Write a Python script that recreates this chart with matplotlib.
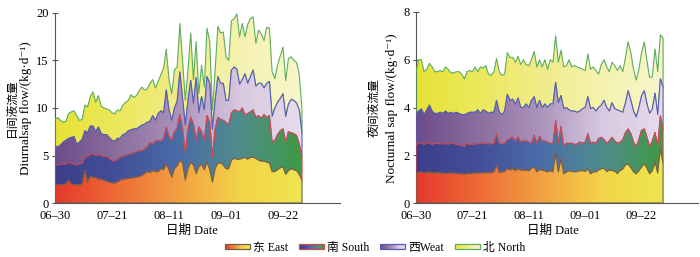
import numpy as np
import matplotlib
matplotlib.use('Agg')
import matplotlib.pyplot as plt
import matplotlib.dates as mdates
from matplotlib.colors import LinearSegmentedColormap
from matplotlib.legend_handler import HandlerBase
from matplotlib.patches import Rectangle

plt.rcParams['font.family'] = ['Liberation Serif', 'Noto Sans CJK SC', 'DejaVu Serif']

# stacked levels (East, +South, +West, +North), daily from 06-30
day_east = [1.9, 1.9, 1.9, 1.9, 2.0, 2.4, 2.0, 1.9, 1.9, 1.9,
            2.0, 3.4, 2.2, 2.8, 2.7, 2.7, 2.5, 2.5, 2.4, 2.3,
            2.2, 2.1, 2.1, 2.2, 2.4, 2.5, 2.5, 2.6, 2.6, 2.7,
            2.7, 2.8, 2.9, 3.1, 3.3, 3.2, 3.4, 3.3, 3.3, 3.6,
            3.5, 4.1, 3.5, 2.7, 3.6, 3.9, 4.5, 4.2, 2.4, 3.6,
            4.3, 4.0, 3.1, 3.8, 4.1, 3.5, 4.3, 3.5, 2.2, 3.6,
            4.2, 4.2, 4.0, 3.6, 3.6, 4.5, 4.7, 4.6, 4.6, 4.7,
            4.8, 4.6, 4.8, 4.8, 4.7, 4.5, 4.4, 4.4, 4.3, 4.2,
            3.3, 3.3, 3.5, 3.7, 3.8, 3.0, 3.4, 3.6, 3.5, 3.4,
            3.0, 2.4]
day_south = [4.0, 4.0, 4.1, 4.1, 4.1, 4.3, 4.2, 4.1, 4.0, 4.1,
             4.2, 4.8, 4.9, 5.1, 5.2, 5.0, 5.1, 5.0, 4.9, 4.9,
             4.7, 4.5, 4.4, 4.6, 4.8, 4.9, 5.0, 5.1, 5.2, 5.3,
             5.4, 5.5, 5.5, 5.7, 5.9, 6.4, 6.2, 6.5, 6.6, 6.5,
             6.8, 8.0, 7.0, 6.6, 7.5, 7.9, 9.3, 7.8, 5.2, 7.8,
             9.0, 8.3, 6.6, 8.0, 7.5, 6.6, 9.2, 8.5, 4.8, 7.8,
             9.0, 8.8, 8.7, 8.5, 8.2, 9.5, 9.8, 9.7, 9.6, 10.0,
             9.3, 9.4, 9.6, 9.8, 9.0, 9.2, 8.9, 9.3, 9.0, 9.2,
             6.4, 6.6, 7.2, 7.6, 7.8, 6.4, 7.5, 7.4, 7.3, 7.1,
             6.2, 4.9]
day_west = [6.0, 5.9, 6.1, 6.4, 6.6, 6.8, 6.9, 7.0, 6.2, 6.4,
            6.7, 7.6, 7.4, 8.1, 8.1, 7.5, 8.0, 7.3, 7.2, 7.2,
            6.9, 6.6, 6.5, 6.8, 6.8, 7.2, 7.3, 7.6, 7.7, 7.8,
            7.8, 8.0, 8.2, 8.3, 8.5, 8.6, 9.2, 8.7, 9.4, 9.7,
            9.5, 11.9, 9.8, 8.7, 10.0, 10.7, 13.8, 11.0, 8.2, 10.8,
            12.9, 10.5, 13.2, 9.5, 11.2, 9.8, 13.3, 12.6, 7.8, 10.8,
            13.3, 12.6, 12.6, 10.8, 10.8, 14.0, 14.3, 14.1, 12.5, 13.0,
            13.6, 12.6, 13.3, 14.0, 12.3, 12.6, 12.6, 12.1, 12.6, 12.8,
            9.1, 10.0, 10.6, 11.0, 11.5, 9.1, 10.4, 10.9, 10.8, 10.5,
            9.8, 7.3]
day_north = [8.8, 9.0, 8.7, 8.5, 8.6, 9.4, 9.6, 9.7, 9.2, 8.7,
             8.8, 10.3, 10.1, 11.2, 11.7, 10.6, 11.3, 10.2, 10.0, 9.9,
             9.8, 9.5, 9.4, 9.8, 9.7, 10.3, 10.6, 10.8, 11.4, 11.1,
             11.3, 11.8, 12.2, 11.9, 12.0, 12.6, 13.0, 12.1, 12.8, 13.5,
             14.2, 16.2, 13.0, 11.5, 14.0, 14.3, 18.9, 15.0, 10.8, 14.0,
             17.9, 13.0, 17.0, 11.5, 14.5, 12.2, 18.4, 17.0, 9.8, 14.0,
             18.6, 17.9, 18.0, 15.4, 15.0, 19.2, 19.4, 19.9, 17.5, 18.9,
             17.5, 18.8, 19.4, 19.6, 16.8, 18.2, 17.8, 17.1, 18.5, 18.4,
             13.8, 13.1, 14.5, 15.5, 16.4, 12.9, 15.2, 15.4, 15.0, 14.8,
             13.5, 9.8]

night_east = [1.23, 1.28, 1.3, 1.25, 1.27, 1.3, 1.25, 1.26, 1.27, 1.25,
              1.25, 1.24, 1.24, 1.25, 1.25, 1.24, 1.23, 1.22, 1.2, 1.24,
              1.23, 1.24, 1.25, 1.26, 1.25, 1.26, 1.26, 1.27, 1.27, 1.3,
              1.58, 1.27, 1.3, 1.32, 1.44, 1.38, 1.44, 1.35, 1.44, 1.38,
              1.37, 1.38, 1.35, 1.45, 1.5, 1.3, 1.4, 1.37, 1.35, 1.3,
              1.35, 1.3, 2.07, 1.3, 1.85, 1.22, 1.3, 1.35, 1.32, 1.3,
              1.32, 1.35, 1.35, 1.32, 1.42, 1.22, 1.3, 1.3, 1.38, 1.43,
              1.45, 1.32, 1.38, 1.36, 1.33, 1.23, 1.36, 1.42, 1.6, 1.62,
              1.48, 1.3, 1.22, 1.35, 1.5, 1.65, 1.45, 1.22, 1.35, 1.7,
              1.25, 2.28, 1.65]
night_south = [2.45, 2.5, 2.55, 2.45, 2.5, 2.55, 2.45, 2.5, 2.5, 2.47,
               2.5, 2.47, 2.47, 2.5, 2.5, 2.45, 2.45, 2.4, 2.37, 2.5,
               2.45, 2.47, 2.45, 2.5, 2.48, 2.5, 2.5, 2.47, 2.48, 2.5,
               2.9, 2.5, 2.47, 2.5, 2.65, 2.7, 2.75, 2.6, 2.77, 2.55,
               2.6, 2.6, 2.55, 2.5, 2.84, 2.5, 2.8, 2.6, 2.6, 2.55,
               2.5, 2.5, 3.45, 2.5, 3.2, 2.37, 2.5, 2.5, 2.5, 2.45,
               2.47, 2.55, 2.5, 2.55, 2.9, 2.5, 2.55, 2.5, 2.7, 2.75,
               2.65, 2.5, 2.6, 2.75, 2.6, 2.5, 2.55, 2.65, 2.95, 3.1,
               2.9, 2.55, 2.35, 2.65, 3.05, 3.1, 2.75, 2.35, 2.6, 2.95,
               2.4, 3.65, 3.05]
night_west = [3.75, 3.85, 3.95, 3.7, 3.9, 4.1, 3.85, 3.75, 3.75, 3.8,
              3.75, 3.85, 3.75, 3.8, 3.75, 3.8, 3.75, 3.7, 3.7, 3.75,
              3.8, 3.8, 3.8, 3.9, 3.75, 3.9, 3.85, 3.75, 3.8, 3.8,
              4.3, 3.8, 3.7, 3.85, 4.55, 4.3, 4.35, 4.15, 4.4, 4.0,
              4.0, 4.15, 4.0, 4.3, 4.45, 4.0, 4.3, 4.0, 4.15, 4.0,
              4.15, 4.15, 5.05, 4.2, 4.5, 3.95, 4.0, 3.9, 3.85, 3.85,
              3.8, 3.85, 3.95, 4.0, 4.45, 3.95, 4.0, 3.85, 4.0, 4.1,
              4.3, 4.0, 3.85, 4.2, 3.95, 3.9, 3.85, 3.8, 4.2, 4.7,
              4.3, 3.85, 3.6, 4.0, 4.5, 4.7, 4.15, 3.75, 3.95, 4.6,
              3.7, 5.2, 4.85]
night_north = [5.5, 6.0, 6.0, 5.5, 5.6, 5.85, 5.7, 5.5, 5.5, 5.55,
               5.5, 5.7, 5.6, 5.45, 5.45, 5.5, 5.5, 5.4, 5.2, 5.5,
               5.55, 5.5, 5.7, 5.5, 5.7, 5.65, 5.75, 5.4, 5.35, 5.5,
               6.05, 5.5, 5.35, 5.4, 6.3, 6.1, 6.1, 5.9, 6.15, 5.8,
               6.0, 5.8, 5.75, 6.0, 6.35, 5.7, 6.0, 5.7, 6.0, 5.6,
               6.0, 5.9, 7.0, 5.9, 6.4, 5.7, 5.75, 6.0, 5.7, 5.75,
               5.7, 5.65, 5.6, 5.55, 6.25, 5.6, 5.7, 5.55, 5.4, 5.8,
               6.0, 5.7, 5.5, 5.9, 5.75, 5.55, 5.75, 5.5, 6.1, 6.75,
               6.3, 5.6, 5.15, 5.6, 6.3, 6.75, 5.95, 5.25, 5.3, 6.45,
               5.5, 7.05, 6.9]

labels = ['东 East', '南 South', '西Weat', '北 North']
tick_labels = ['06–30', '07–21', '08–11', '09–01', '09–22']

start = np.datetime64('2019-06-30')
cmaps = [
    LinearSegmentedColormap.from_list('e', ['#e5392d', '#ee6a36', '#f2a042', '#f3d448', '#eee64e']),
    LinearSegmentedColormap.from_list('s', ['#3d3e8a', '#434f98', '#4a6ca8', '#4f8c8c', '#3f9a44']),
    LinearSegmentedColormap.from_list('w', ['#6c4c8c', '#8a6e9e', '#ab93ba', '#d8c8e0', '#e8dcec']),
    LinearSegmentedColormap.from_list('n', ['#e6e235', '#ece85c', '#f0ec88', '#f5f2b0', '#f8f6cc']),
]
edge_colors = ['#6a6248', '#d84848', '#5a5ab4', '#5cae5c']
grad = np.linspace(0, 1, 256).reshape(1, -1)


def draw_panel(ax, levels, ymax, yticks):
    dates = start + np.arange(len(levels[0]))
    x = mdates.date2num(dates.astype('datetime64[D]').astype(object))
    lowers = [np.zeros(len(x))] + [np.array(l) for l in levels[:-1]]
    for i in [3, 2, 1, 0]:
        z = 2 + 2 * (3 - i)
        poly = ax.fill_between(x, lowers[i], levels[i], facecolor='none',
                               edgecolor=edge_colors[i], lw=0.8, zorder=z + 1)
        im = ax.imshow(grad, extent=[x[0], x[-1], 0, ymax], aspect='auto',
                       cmap=cmaps[i], zorder=z, interpolation='bilinear')
        im.set_clip_path(poly.get_paths()[0], transform=ax.transData)
    ax.set_xlim(x[0], x[0] + 105)
    ax.set_ylim(0, ymax)
    ax.set_xticks(x[0] + np.arange(0, 85, 21))
    ax.set_xticklabels(tick_labels)
    ax.set_yticks(yticks)
    for s in ['top', 'right']:
        ax.spines[s].set_visible(False)
    for s in ['left', 'bottom']:
        ax.spines[s].set_color('#555555')
        ax.spines[s].set_linewidth(0.8)
    ax.tick_params(axis='x', direction='in', length=4, width=0.8, color='#555555',
                   labelsize=9, pad=5)
    ax.tick_params(axis='y', direction='inout', length=5, width=0.8, color='#555555',
                   labelsize=9, pad=2)


fig = plt.figure(figsize=(7, 2.57), dpi=100)
ax1 = fig.add_axes([55 / 700, 1 - 203 / 257, 285 / 700, 190 / 257])
ax2 = fig.add_axes([416 / 700, 1 - 203 / 257, 282 / 700, 191 / 257])

draw_panel(ax1, [day_east, day_south, day_west, day_north], 20, [0, 5, 10, 15, 20])
draw_panel(ax2, [night_east, night_south, night_west, night_north], 8, [0, 2, 4, 6, 8])

# axis titles
fig.text(12 / 700, 1 - 108 / 257, '日间液流量', rotation=90, ha='center', va='center', fontsize=8.5)
fig.text(26 / 700, 1 - 108 / 257, 'Diurnalsap flow/(kg·d⁻¹)', rotation=90, ha='center', va='center', fontsize=9.5)
fig.text(375 / 700, 1 - 108 / 257, '夜间液流量', rotation=90, ha='center', va='center', fontsize=8.5)
fig.text(392 / 700, 1 - 108 / 257, 'Nocturnal sap flow/(kg·d⁻¹)', rotation=90, ha='center', va='center', fontsize=9.5)
fig.text(192 / 700, 1 - 231 / 257, '日期 Date', ha='center', va='center', fontsize=9)
fig.text(553 / 700, 1 - 231 / 257, '日期 Date', ha='center', va='center', fontsize=9)


class GradientHandler(HandlerBase):
    def __init__(self, cmap, edge):
        super().__init__()
        self.cmap = cmap
        self.edge = edge

    def create_artists(self, legend, orig_handle, xdescent, ydescent, width, height, fontsize, trans):
        n = 30
        y0 = -ydescent + height * 0.2
        h = height * 0.6
        arts = []
        for k in range(n):
            arts.append(Rectangle((-xdescent + width * k / n, y0), width / n * 1.1, h,
                                  facecolor=self.cmap(k / (n - 1)), edgecolor='none', transform=trans))
        arts.append(Rectangle((-xdescent, y0), width, h, facecolor='none',
                              edgecolor=self.edge, lw=0.9, transform=trans))
        return arts


handles = [Rectangle((0, 0), 1, 1) for _ in range(4)]
hmap = {h: GradientHandler(cmaps[i], edge_colors[i]) for i, h in enumerate(handles)}
fig.legend(handles, labels, handler_map=hmap, loc='center', bbox_to_anchor=(375 / 700, 1 - 248 / 257),
           ncol=4, frameon=False, fontsize=8.5, handlelength=2.1, handletextpad=0.3,
           columnspacing=0.9, borderpad=0)

fig.savefig('out.png', dpi=100)
